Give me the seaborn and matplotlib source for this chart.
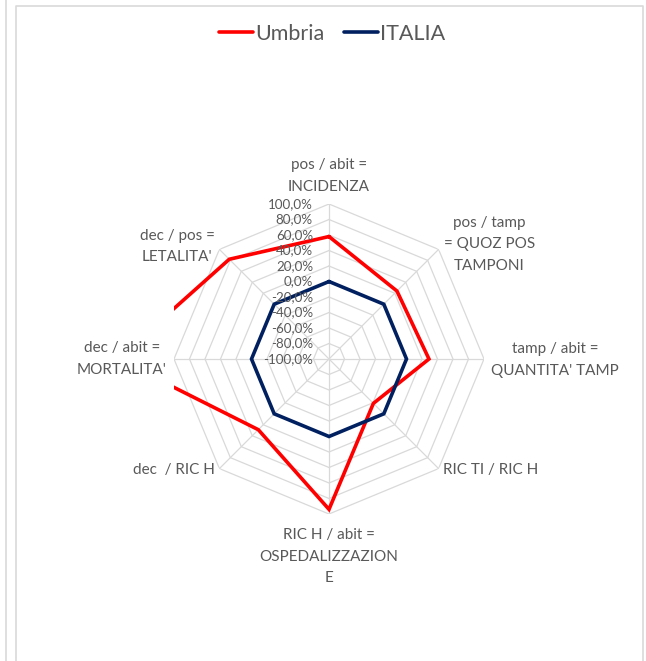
import numpy as np
import pandas as pd
import matplotlib
matplotlib.use("Agg")
import matplotlib.pyplot as plt
import seaborn as sns
from matplotlib.lines import Line2D

# Indicators (clockwise from the top) and regional values, % vs. national level
categories = [
    "pos / abit =\nINCIDENZA",
    "pos / tamp\n= QUOZ POS\nTAMPONI",
    "tamp / abit =\nQUANTITA' TAMP",
    "RIC TI / RIC H",
    "RIC H / abit =\nOSPEDALIZZAZION\nE",
    "dec  / RIC H",
    "dec / abit =\nMORTALITA'",
    "dec / pos =\nLETALITA'",
]
umbria = [58, 24, 29, -19, 94, 29, 173, 82]
italia = [0, 0, 0, 0, 0, 0, 0, 0]
series_names = ["Umbria", "ITALIA"]
series_colors = ["#FF0000", "#002060"]

ring_values = [100, 80, 60, 40, 20, 0, -20, -40, -60, -80, -100]
ring_labels = ["100,0%", "80,0%", "60,0%", "40,0%", "20,0%", "0,0%",
               "-20,0%", "-40,0%", "-60,0%", "-80,0%", "-100,0%"]

sns.set_theme(style="white")
plt.rcParams["font.family"] = ["Lato", "DejaVu Sans"]

TEXT = "#595959"
GRID = "#D9D9D9"

W, H = 646, 661
fig = plt.figure(figsize=(W / 100, H / 100), dpi=100)
fig.patch.set_facecolor("white")

# chart frame and neighbouring panel edge
fig.add_artist(Line2D([5.5 / W, 5.5 / W], [0, 1], transform=fig.transFigure,
                      color=GRID, lw=1.2))
fig.add_artist(Line2D([15.5 / W, 15.5 / W, 643 / W, 643 / W],
                      [0, 1 - 5.5 / H, 1 - 5.5 / H, 0],
                      transform=fig.transFigure, color=GRID, lw=1.2))

cx, cy, R = 329, 359, 155
ax = fig.add_axes([(cx - R) / W, (H - cy - R) / H, 2 * R / W, 2 * R / H],
                  projection="polar")
ax.set_theta_zero_location("N")
ax.set_theta_direction(-1)
ax.set_ylim(ring_values[-1], ring_values[0])
ax.grid(False)
ax.set_xticks([])
ax.set_yticks([])
ax.spines["polar"].set_visible(False)
ax.patch.set_alpha(0)

n = len(categories)
theta = np.arange(n) * 2 * np.pi / n
theta_closed = np.append(theta, 2 * np.pi)

# octagonal web
for v in ring_values[:-1]:
    ax.plot(theta_closed, [v] * (n + 1), color=GRID, lw=0.9, zorder=1)
for t in theta:
    ax.plot([t, t], [ring_values[-1], ring_values[0]], color=GRID, lw=0.9, zorder=1)

n_before = len(ax.lines)
rows = []
for name, vals in zip(series_names, [umbria, italia]):
    closed = list(vals) + [vals[0]]
    for t, v in zip(theta_closed, closed):
        rows.append({"theta": t, "value": v, "region": name})
df = pd.DataFrame(rows)
sns.lineplot(data=df, x="theta", y="value", hue="region", hue_order=series_names,
             palette=series_colors, sort=False, estimator=None, lw=2.6,
             legend=False, ax=ax, zorder=3)
ax.set_xlabel("")
ax.set_ylabel("")
series_lines = ax.lines[n_before:]
for ln in series_lines:
    # clip to the square plot area rather than the round polar patch
    ln.set_clip_path(None)
    ln.set_clip_box(ax.bbox)
    ln.set_solid_joinstyle("miter")

# radial value labels along the top spoke
for v, lab in zip(ring_values, ring_labels):
    ax.annotate(lab, xy=(0, v), xytext=(-16, 0), textcoords="offset pixels",
                ha="right", va="center", fontsize=9.6, color=TEXT,
                annotation_clip=False)

# category labels
placements = [
    ((0, 10), "center", "bottom"),
    ((5, 5), "left", "center"),
    ((7, -1), "left", "center"),
    ((4, -1), "left", "center"),
    ((0, -14), "center", "top"),
    ((-5, -1), "right", "center"),
    ((-7, 0), "right", "center"),
    ((-5, 3), "right", "center"),
]
for t, lab, (off, ha, va) in zip(theta, categories, placements):
    ax.annotate(lab, xy=(t, ring_values[0]), xytext=off, textcoords="offset pixels",
                ha=ha, va=va, multialignment="center", fontsize=11, color=TEXT,
                linespacing=1.7, annotation_clip=False)

handles = [Line2D([], [], color=c, lw=2.6) for c in series_colors]
fig.legend(handles, series_names, loc="center", bbox_to_anchor=(332 / W, 1 - 34 / H),
           ncol=2, frameon=False, fontsize=15.5, handlelength=1.6, handletextpad=0.1,
           columnspacing=0.9, labelcolor=TEXT)

fig.savefig("out.png", dpi=100, facecolor="white")
